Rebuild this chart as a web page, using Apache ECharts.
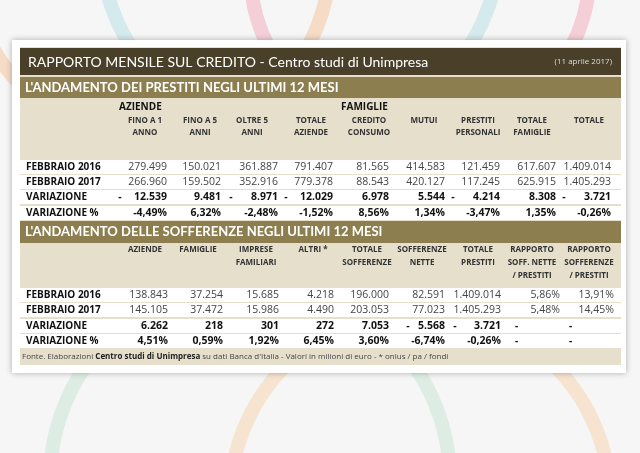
<!DOCTYPE html>
<html><head><meta charset="utf-8">
<script src="https://cdn.jsdelivr.net/npm/echarts@6/dist/echarts.min.js"></script>
<style>html,body{margin:0;padding:0;background:#f6f6f6}#c{width:640px;height:453px}</style>
</head><body><div id="c"></div>
<script>
const title = "RAPPORTO MENSILE SUL CREDITO - Centro studi di Unimpresa";
const dateNote = "(11 aprile 2017)";
const sec1Title = "L'ANDAMENTO DEI PRESTITI NEGLI ULTIMI 12 MESI";
const sec2Title = "L'ANDAMENTO DELLE SOFFERENZE NEGLI ULTIMI 12 MESI";
const rowLabels = ["FEBBRAIO 2016", "FEBBRAIO 2017", "VARIAZIONE", "VARIAZIONE %"];
const s1Headers = [["FINO A 1","ANNO"],["FINO A 5","ANNI"],["OLTRE 5","ANNI"],["TOTALE","AZIENDE"],["CREDITO","CONSUMO"],["MUTUI"],["PRESTITI","PERSONALI"],["TOTALE","FAMIGLIE"],["TOTALE"]];
const s1Feb2016 = [279499,150021,361887,791407,81565,414583,121459,617607,1409014];
const s1Feb2017 = [266960,159502,352916,779378,88543,420127,117245,625915,1405293];
const s1Var = [-12539,9481,-8971,-12029,6978,5544,-4214,8308,-3721];
const s1VarPct = [-4.49,6.32,-2.48,-1.52,8.56,1.34,-3.47,1.35,-0.26];
const s2Headers = [["AZIENDE"],["FAMIGLIE"],["IMPRESE","FAMILIARI"],["ALTRI *"],["TOTALE","SOFFERENZE"],["SOFFERENZE","NETTE"],["TOTALE","PRESTITI"],["RAPPORTO","SOFF. NETTE","/ PRESTITI"],["RAPPORTO","SOFFERENZE","/ PRESTITI"]];
const s2Feb2016 = [138843,37254,15685,4218,196000,82591,1409014,5.86,13.91];
const s2Feb2017 = [145105,37472,15986,4490,203053,77023,1405293,5.48,14.45];
const s2Var = [6262,218,301,272,7053,-5568,-3721,null,null];
const s2VarPct = [4.51,0.59,1.92,6.45,3.60,-6.74,-0.26,null,null];
const footnote = "Fonte. Elaborazioni ";
const footBold = "Centro studi di Unimpresa";
const footEnd = " su dati Banca d'Italia - Valori in milioni di euro - * onlus / pa / fondi";

const FONT = "'Open Sans', sans-serif";
const colRight = [167,221,278,333,389,445,500,556,611];
const colCenter = [145,200,252,311,369,424,478,532,589];
const col2Right = [168,223,279,334,389,445,501,560,614];
const col2Center = [145,198,256,313,367,422,478,532,589];

function fmtInt(v){return String(Math.abs(v)).replace(/\B(?=(\d{3})+(?!\d))/g,'.');}
function fmtPct(v){return (v<0?'-':'')+Math.abs(v).toFixed(2).replace('.',',')+'%';}

const els = [];
function rect(x,y,w,h,fill,extra){els.push(Object.assign({type:'rect',shape:{x,y,width:w,height:h},style:{fill}},extra||{}));}
function txt(x,y,t,o){o=o||{};els.push({type:'text',x,y,style:{text:t,fill:o.fill||'#111',font:(o.bold?'bold ':'')+(o.size||11)+'px '+(o.family||FONT),textAlign:o.align||'left',textVerticalAlign:'middle'}});}

// decorative background swooshes
const sw=[['#f7c9a8',150,-40,180],['#bfe3e8',300,-60,200],['#f3b6c4',420,-30,170],['#cfe8d8',250,480,200],['#f7d7b8',420,500,190]];
sw.forEach(s=>els.push({type:'circle',shape:{cx:s[1],cy:s[2],r:s[3]},style:{fill:'none',stroke:s[0],lineWidth:14,opacity:0.6}}));
// card
rect(12,40,614,333,'#fff',{style:{fill:'#fff',shadowBlur:6,shadowColor:'rgba(0,0,0,0.3)'}});
rect(20,47,601,318,'#e6dfcc');
rect(20,48,601,27,'#4a4029');
txt(28,62,title,{fill:'#fff',size:14,family:"'Lato', sans-serif"});
txt(612,62,dateNote,{fill:'#ddd',size:8,align:'right'});
rect(20,77,601,21,'#8c7e4e');
txt(25,88,sec1Title,{fill:'#fff',size:13,bold:true,family:"'Lato', sans-serif"});
txt(119,107,"AZIENDE",{bold:true,size:10});
txt(341,107,"FAMIGLIE",{bold:true,size:10});
s1Headers.forEach((h,i)=>h.forEach((l,j)=>txt(colCenter[i],121+j*12,l,{bold:true,size:8,align:'center',fill:'#333'})));
const rowsY1=[167,182,197,213];
rowsY1.forEach(y=>rect(20,y-7,601,14,'#fff'));
function drawRows(ys,rights,feb16,feb17,vr,vp,pctCols,dashOff){
  ys.forEach((y,i)=>txt(26,y,rowLabels[i],{bold:true,size:10}));
  rights.forEach((x,c)=>{
    const isPct=pctCols&&pctCols[c];
    txt(x,ys[0],isPct?fmtPct(feb16[c]):fmtInt(feb16[c]),{align:'right',size:10.5,fill:'#444'});
    txt(x,ys[1],isPct?fmtPct(feb17[c]):fmtInt(feb17[c]),{align:'right',size:10.5,fill:'#444'});
    if(vr[c]===null){txt(x-45,ys[2],'-',{bold:true,size:10});txt(x-45,ys[3],'-',{bold:true,size:10});return;}
    txt(x,ys[2],fmtInt(vr[c]),{align:'right',bold:true,size:10.5});
    if(vr[c]<0) txt(x-(dashOff[c]||47),ys[2],'-',{bold:true,size:10.5,align:'center'});
    txt(x,ys[3],fmtPct(vp[c]),{align:'right',bold:true,size:10.5});
  });
}
drawRows(rowsY1,colRight,s1Feb2016,s1Feb2017,s1Var,s1VarPct,null,{});
rect(20,221,601,22,'#8c7e4e');
txt(25,232,sec2Title,{fill:'#fff',size:13,bold:true,family:"'Lato', sans-serif"});
s2Headers.forEach((h,i)=>h.forEach((l,j)=>txt(col2Center[i],250+j*13,l,{bold:true,size:8,align:'center',fill:'#333'})));
const rowsY2=[295,310,326,341];
rowsY2.forEach(y=>rect(20,y-7,601,14,'#fff'));
drawRows(rowsY2,col2Right,s2Feb2016,s2Feb2017,s2Var,s2VarPct,[0,0,0,0,0,0,0,1,1],{5:37,6:46});
els.push({type:'text',x:22,y:357,style:{text:'{a|'+footnote+'}{b|'+footBold+'}{a|'+footEnd+'}',textVerticalAlign:'middle',rich:{a:{font:'8px '+FONT,fill:'#444'},b:{font:'bold 8px '+FONT,fill:'#222'}}}});

const chart = echarts.init(document.getElementById('c'));
chart.setOption({backgroundColor:'#f6f6f6',graphic:{elements:els}});
</script></body></html>
